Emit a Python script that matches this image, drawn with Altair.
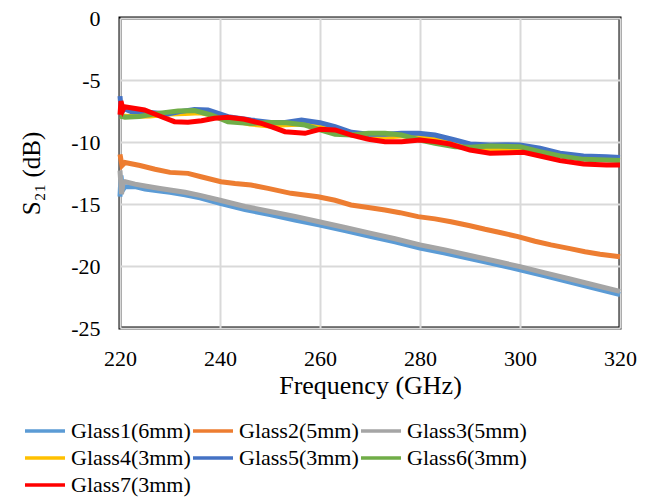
import altair as alt
import pandas as pd

names = ["Glass1(6mm)", "Glass2(5mm)", "Glass3(5mm)", "Glass4(3mm)",
         "Glass5(3mm)", "Glass6(3mm)", "Glass7(3mm)"]
colors = ["#5B9BD5", "#ED7D31", "#A5A5A5", "#FFC000", "#4472C4", "#70AD47", "#FF0000"]

g1_f = [220, 220.2, 220.5, 221, 223, 225, 228, 230, 233, 236, 240, 245, 250, 255, 260,
        265, 270, 275, 280, 285, 290, 295, 300, 305, 310, 315, 320]
g1_v = [-14.4, -12.7, -13.9, -13.6, -13.6, -13.8, -13.95, -14.05, -14.25, -14.5, -14.95,
        -15.45, -15.85, -16.3, -16.7, -17.15, -17.6, -18.05, -18.55, -18.95, -19.4, -19.85,
        -20.3, -20.8, -21.3, -21.8, -22.3]

g2_f = [220, 220.4, 221, 224, 227, 230, 233.6, 236.2, 240.2, 243, 246.2, 249.6, 254.2,
        259.6, 263, 266.2, 270, 273, 276, 279.6, 283, 286.2, 290, 293, 296, 299.6, 303,
        306.2, 310, 313, 316, 320]
g2_v = [-11.0, -11.9, -11.65, -11.9, -12.2, -12.45, -12.53, -12.8, -13.2, -13.35, -13.47,
        -13.74, -14.14, -14.41, -14.7, -15.08, -15.3, -15.48, -15.7, -16.02, -16.2, -16.43,
        -16.75, -17.04, -17.3, -17.63, -18.0, -18.3, -18.6, -18.85, -19.05, -19.25]

g3_f = [220, 220.3, 220.6, 221, 223, 225, 228, 230, 233, 236, 240, 245, 250, 255, 260,
        265, 270, 275, 280, 285, 290, 295, 300, 305, 310, 315, 320]
g3_v = [-12.3, -14.2, -13.3, -13.2, -13.4, -13.55, -13.75, -13.87, -14.05, -14.3, -14.7,
        -15.2, -15.6, -16.0, -16.45, -16.9, -17.35, -17.8, -18.3, -18.7, -19.15, -19.6,
        -20.05, -20.55, -21.05, -21.55, -22.05]

g4_f = [220, 222, 226, 230, 233, 236, 239, 242, 246, 250, 253, 257, 260, 263, 266, 270,
        273, 277, 280, 283, 287, 290, 294, 298, 301, 304, 308, 312.7, 317, 320]
g4_v = [-7.9, -7.95, -7.9, -7.75, -7.7, -7.65, -7.85, -8.2, -8.55, -8.7, -8.6, -8.55,
        -8.75, -9.05, -9.4, -9.6, -9.6, -9.5, -9.55, -9.75, -10.1, -10.45, -10.55, -10.55,
        -10.6, -10.8, -11.1, -11.3, -11.4, -11.45]

g5_f = [220, 220.3, 220.7, 222.2, 226, 229.6, 232, 234.9, 237.6, 241.6, 246.2, 250.2, 253,
        256.3, 260, 263, 266.3, 269.7, 273, 276.3, 279.7, 283, 287, 290, 294, 297, 300, 304,
        308, 312.7, 317.3, 320]
g5_v = [-6.3, -7.7, -7.3, -7.55, -7.63, -7.74, -7.55, -7.37, -7.42, -7.96, -8.23, -8.42,
        -8.42, -8.23, -8.44, -8.76, -9.22, -9.38, -9.38, -9.3, -9.3, -9.44, -9.84, -10.16,
        -10.24, -10.22, -10.24, -10.51, -10.91, -11.13, -11.18, -11.24]

g6_f = [220, 221, 223.8, 227.6, 231.6, 234.9, 238.2, 241.6, 246.2, 250.2, 253.3, 257, 260,
        263, 266.3, 269.7, 273, 276.3, 280, 283, 287, 290, 294, 300, 304, 308, 312.7, 317.3,
        320]
g6_v = [-7.9, -8.0, -7.95, -7.69, -7.5, -7.47, -7.82, -8.36, -8.5, -8.42, -8.45, -8.63,
        -9.03, -9.38, -9.44, -9.3, -9.3, -9.44, -9.84, -10.1, -10.38, -10.43, -10.32,
        -10.38, -10.78, -11.13, -11.4, -11.45, -11.5]

g7_f = [220, 220.2, 220.6, 220.9, 224.9, 228.3, 230.9, 233.6, 236.3, 238.9, 241.6, 244.9,
        248.3, 250.5, 253, 257, 260, 263, 266.3, 269.7, 273, 276.3, 280, 283, 286, 290, 294,
        298, 300.7, 304, 308, 312.7, 317.3, 320]
g7_v = [-7.8, -6.7, -7.4, -7.15, -7.42, -7.96, -8.36, -8.41, -8.28, -8.09, -8.01, -8.17,
        -8.5, -8.8, -9.17, -9.3, -8.98, -9.03, -9.44, -9.78, -9.97, -9.97, -9.84, -9.97,
        -10.16, -10.65, -10.91, -10.86, -10.83, -11.13, -11.5, -11.77, -11.85, -11.85]

x_ticks = [220, 240, 260, 280, 300, 320]
y_ticks = [0, -5, -10, -15, -20, -25]

series = [(g1_f, g1_v), (g2_f, g2_v), (g3_f, g3_v), (g4_f, g4_v),
          (g5_f, g5_v), (g6_f, g6_v), (g7_f, g7_v)]
rows = []
for i, (name, (fs, vs)) in enumerate(zip(names, series)):
    for f, v in zip(fs, vs):
        rows.append({"Frequency": f, "S21": v, "Series": name, "k": i})
df = pd.DataFrame(rows)

FONT = "Liberation Serif"

chart = alt.Chart(df).mark_line(strokeWidth=5).encode(
    x=alt.X("Frequency:Q",
            scale=alt.Scale(domain=[220, 320], nice=False, zero=False),
            axis=alt.Axis(values=x_ticks, title="Frequency (GHz)", labelPadding=20,
                          labelFlush=False, titlePadding=3, titleFontSize=26)),
    y=alt.Y("S21:Q",
            scale=alt.Scale(domain=[-25, 0], nice=False),
            axis=alt.Axis(values=y_ticks, title="S₂₁ (dB)", labelPadding=20,
                          labelExpr="'' + datum.value",
                          titlePadding=26, titleFontSize=25)),
    color=alt.Color("Series:N",
                    scale=alt.Scale(domain=names, range=colors),
                    legend=alt.Legend(title=None, orient="none", legendX=-97, legendY=401,
                                      columns=3, direction="horizontal",
                                      symbolType="M-1,0H3", symbolSize=400,
                                      symbolStrokeWidth=3.5, labelFont=FONT,
                                      labelFontSize=22, labelColor="black",
                                      columnPadding=-7, rowPadding=4, labelOffset=24,
                                      labelLimit=300, padding=0)),
    detail="k:O",
).properties(
    width=500, height=310,
    autosize=alt.AutoSizeParams(type="none"),
    padding={"left": 112, "top": 10, "right": 40, "bottom": 170},
).configure_view(
    stroke="black", strokeWidth=3
).configure_axis(
    grid=True, gridColor="#D9D9D9", gridWidth=2, domain=False, ticks=False, tickSize=0,
    labelFont=FONT, labelFontSize=22, labelColor="black",
    titleFont=FONT, titleFontWeight="normal", titleColor="black"
)

chart.save("out.html", embed_options={"renderer": "svg", "actions": False})
